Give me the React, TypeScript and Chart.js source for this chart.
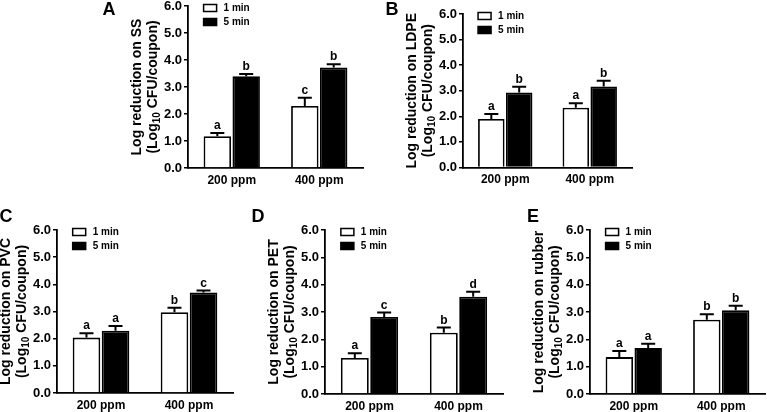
import React, { useEffect, useRef } from "react";
import { Chart, registerables } from "chart.js";

Chart.register(...registerables);

// ---------- DATA ----------
const categories = ["200 ppm", "400 ppm"];
const seriesLabels = ["1 min", "5 min"];
const yMin = 0;
const yMax = 6;
const yStep = 1;

// A: stainless steel
const ssOneMin = [1.18, 2.3];
const ssFiveMin = [3.4, 3.72];
const ssOneMinErr = [0.12, 0.3];
const ssFiveMinErr = [0.08, 0.12];
const ssOneMinLetters = ["a", "c"];
const ssFiveMinLetters = ["b", "b"];

// B: LDPE
const ldpeOneMin = [1.9, 2.34];
const ldpeFiveMin = [2.93, 3.17];
const ldpeOneMinErr = [0.19, 0.17];
const ldpeFiveMinErr = [0.23, 0.22];
const ldpeOneMinLetters = ["a", "a"];
const ldpeFiveMinLetters = ["b", "b"];

// C: PVC
const pvcOneMin = [2.04, 2.97];
const pvcFiveMin = [2.29, 3.7];
const pvcOneMinErr = [0.16, 0.17];
const pvcFiveMinErr = [0.18, 0.07];
const pvcOneMinLetters = ["a", "b"];
const pvcFiveMinLetters = ["a", "c"];

// D: PET
const petOneMin = [1.32, 2.24];
const petFiveMin = [2.82, 3.56];
const petOneMinErr = [0.17, 0.19];
const petFiveMinErr = [0.16, 0.18];
const petOneMinLetters = ["a", "b"];
const petFiveMinLetters = ["c", "d"];

// E: rubber
const rubberOneMin = [1.35, 2.72];
const rubberFiveMin = [1.68, 3.06];
const rubberOneMinErr = [0.22, 0.2];
const rubberFiveMinErr = [0.16, 0.17];
const rubberOneMinLetters = ["a", "b"];
const rubberFiveMinLetters = ["a", "b"];

// ---------- LAYOUT ----------
const W = 767;
const H = 412;
const O = 20; // canvas overflow margin
const FONT = "'Liberation Sans', Arial, Helvetica, sans-serif";
const Y_AXIS_W = 30;
const X_AXIS_H = 30;

type Panel = {
  letter: string;
  letterX: number;
  letterY: number;
  material: string;
  one: number[];
  five: number[];
  oneErr: number[];
  fiveErr: number[];
  oneLet: string[];
  fiveLet: string[];
  axisX: number;
  xRight: number;
  yTop: number;
  yBottom: number;
};

const panels: Panel[] = [
  { letter: "A", letterX: 109, letterY: 10, material: "SS", one: ssOneMin, five: ssFiveMin, oneErr: ssOneMinErr, fiveErr: ssFiveMinErr, oneLet: ssOneMinLetters, fiveLet: ssFiveMinLetters, axisX: 188, xRight: 363, yTop: 6, yBottom: 168 },
  { letter: "B", letterX: 392, letterY: 10, material: "LDPE", one: ldpeOneMin, five: ldpeFiveMin, oneErr: ldpeOneMinErr, fiveErr: ldpeFiveMinErr, oneLet: ldpeOneMinLetters, fiveLet: ldpeFiveMinLetters, axisX: 463, xRight: 632, yTop: 14, yBottom: 167.5 },
  { letter: "C", letterX: 6, letterY: 217, material: "PVC", one: pvcOneMin, five: pvcFiveMin, oneErr: pvcOneMinErr, fiveErr: pvcFiveMinErr, oneLet: pvcOneMinLetters, fiveLet: pvcFiveMinLetters, axisX: 57, xRight: 233, yTop: 230, yBottom: 393 },
  { letter: "D", letterX: 258, letterY: 217, material: "PET", one: petOneMin, five: petFiveMin, oneErr: petOneMinErr, fiveErr: petFiveMinErr, oneLet: petOneMinLetters, fiveLet: petFiveMinLetters, axisX: 325, xRight: 503, yTop: 230, yBottom: 394 },
  { letter: "E", letterX: 533, letterY: 217, material: "rubber", one: rubberOneMin, five: rubberFiveMin, oneErr: rubberOneMinErr, fiveErr: rubberFiveMinErr, oneLet: rubberOneMinLetters, fiveLet: rubberFiveMinLetters, axisX: 590, xRight: 765, yTop: 230, yBottom: 394 },
];

// ---------- PLUGINS ----------
const errorBarPlugin = {
  id: "errorBars",
  afterDatasetsDraw(chart: any) {
    const ctx = chart.ctx;
    const yScale = chart.scales.y;
    chart.data.datasets.forEach((ds: any, i: number) => {
      const meta = chart.getDatasetMeta(i);
      meta.data.forEach((bar: any, j: number) => {
        const v = ds.data[j];
        const e = ds.errors[j];
        const yTopPx = yScale.getPixelForValue(v);
        const yErr = yScale.getPixelForValue(v + e);
        ctx.save();
        ctx.strokeStyle = "#000";
        ctx.lineWidth = 2;
        ctx.beginPath();
        ctx.moveTo(bar.x, yTopPx);
        ctx.lineTo(bar.x, yErr);
        ctx.moveTo(bar.x - 7, yErr);
        ctx.lineTo(bar.x + 7, yErr);
        ctx.stroke();
        ctx.fillStyle = "#000";
        ctx.font = `bold 12px ${FONT}`;
        ctx.textAlign = "center";
        ctx.textBaseline = "alphabetic";
        ctx.fillText(ds.letters[j], bar.x, yErr - 4);
        ctx.restore();
      });
    });
  },
};

const decorPlugin = {
  id: "decor",
  afterDraw(chart: any, _args: any, opts: any) {
    const ctx = chart.ctx;
    const area = chart.chartArea;
    ctx.save();
    // panel letter
    ctx.fillStyle = "#000";
    ctx.font = `bold 18px ${FONT}`;
    ctx.textAlign = "center";
    ctx.textBaseline = "middle";
    ctx.fillText(opts.letter, opts.letterX + O, opts.letterY + O);

    // y axis title (two lines, rotated)
    const cy = (area.top + area.bottom) / 2;
    ctx.font = `bold 14px ${FONT}`;
    ctx.save();
    ctx.translate(area.left - 51, cy);
    ctx.rotate(-Math.PI / 2);
    ctx.textAlign = "center";
    ctx.textBaseline = "middle";
    ctx.fillText(opts.title1, 0, 0);
    ctx.restore();

    ctx.save();
    ctx.translate(area.left - 35, cy);
    ctx.rotate(-Math.PI / 2);
    ctx.textBaseline = "middle";
    ctx.textAlign = "left";
    const main = `bold 14px ${FONT}`;
    const sub = `bold 10px ${FONT}`;
    const parts = [
      { t: "(Log", f: main, dy: 0 },
      { t: "10", f: sub, dy: 4 },
      { t: " CFU/coupon)", f: main, dy: 0 },
    ];
    let total = 0;
    parts.forEach((p) => {
      ctx.font = p.f;
      total += ctx.measureText(p.t).width;
    });
    let x = -total / 2;
    parts.forEach((p) => {
      ctx.font = p.f;
      ctx.fillText(p.t, x, p.dy);
      x += ctx.measureText(p.t).width;
    });
    ctx.restore();

    // legend
    const firstBar = chart.getDatasetMeta(0).data[0];
    const lx = firstBar.x - firstBar.width / 2;
    ctx.font = `bold 10px ${FONT}`;
    ctx.textAlign = "left";
    ctx.textBaseline = "middle";
    chart.data.datasets.forEach((ds: any, i: number) => {
      const ry = area.top + 2 + i * 14;
      ctx.fillStyle = ds.backgroundColor;
      ctx.fillRect(lx, ry - 3.5, 13, 7);
      ctx.strokeStyle = "#000";
      ctx.lineWidth = 1.5;
      ctx.strokeRect(lx, ry - 3.5, 13, 7);
      ctx.fillStyle = "#000";
      ctx.fillText(ds.label, lx + 20, ry);
    });
    ctx.restore();
  },
};

// ---------- COMPONENT ----------
function PanelChart({ p }: { p: Panel }) {
  const ref = useRef<HTMLCanvasElement | null>(null);
  useEffect(() => {
    if (!ref.current) return;
    const cw = W + 2 * O;
    const ch = H + 2 * O;
    const chart = new Chart(ref.current, {
      type: "bar",
      data: {
        labels: categories,
        datasets: [
          {
            label: seriesLabels[0],
            data: p.one,
            errors: p.oneErr,
            letters: p.oneLet,
            backgroundColor: "#ffffff",
            borderColor: "#000000",
            borderWidth: 1.8,
            barPercentage: 0.95,
            categoryPercentage: 0.66,
          } as any,
          {
            label: seriesLabels[1],
            data: p.five,
            errors: p.fiveErr,
            letters: p.fiveLet,
            backgroundColor: "#000000",
            borderColor: "#000000",
            borderWidth: 1.8,
            barPercentage: 0.95,
            categoryPercentage: 0.66,
          } as any,
        ],
      },
      options: {
        responsive: false,
        animation: false,
        events: [],
        layout: {
          padding: {
            left: O + p.axisX - Y_AXIS_W,
            top: O + p.yTop,
            right: cw - (p.xRight + O),
            bottom: ch - (p.yBottom + O) - X_AXIS_H,
          },
        },
        plugins: {
          legend: { display: false },
          tooltip: { enabled: false },
          decor: {
            letter: p.letter,
            letterX: p.letterX,
            letterY: p.letterY,
            title1: `Log reduction on ${p.material}`,
          },
        } as any,
        scales: {
          x: {
            grid: { display: false, drawTicks: false },
            border: { display: true, color: "#000", width: 1.8 },
            ticks: {
              color: "#000",
              padding: 5,
              font: { family: FONT, size: 12, weight: "bold" },
            },
            afterFit: (s: any) => {
              s.height = X_AXIS_H;
            },
          },
          y: {
            min: yMin,
            max: yMax,
            grid: {
              display: true,
              drawOnChartArea: false,
              drawTicks: true,
              tickLength: 4,
              color: "#000",
              lineWidth: 1.5,
            },
            border: { display: true, color: "#000", width: 1.8 },
            ticks: {
              stepSize: yStep,
              color: "#000",
              padding: 2,
              font: { family: FONT, size: 13, weight: "bold" },
              callback: (v: any) => Number(v).toFixed(1),
            },
            afterFit: (s: any) => {
              s.width = Y_AXIS_W;
            },
          },
        },
      } as any,
      plugins: [errorBarPlugin, decorPlugin],
    });
    return () => chart.destroy();
  }, [p]);
  return (
    <canvas
      ref={ref}
      width={W + 2 * O}
      height={H + 2 * O}
      style={{
        position: "absolute",
        left: -O,
        top: -O,
        width: W + 2 * O,
        height: H + 2 * O,
      }}
    />
  );
}

export default function App() {
  return (
    <div
      style={{
        position: "fixed",
        left: 0,
        top: 0,
        width: W,
        height: H,
        overflow: "hidden",
        background: "#fff",
      }}
    >
      {panels.map((p) => (
        <PanelChart key={p.letter} p={p} />
      ))}
    </div>
  );
}
